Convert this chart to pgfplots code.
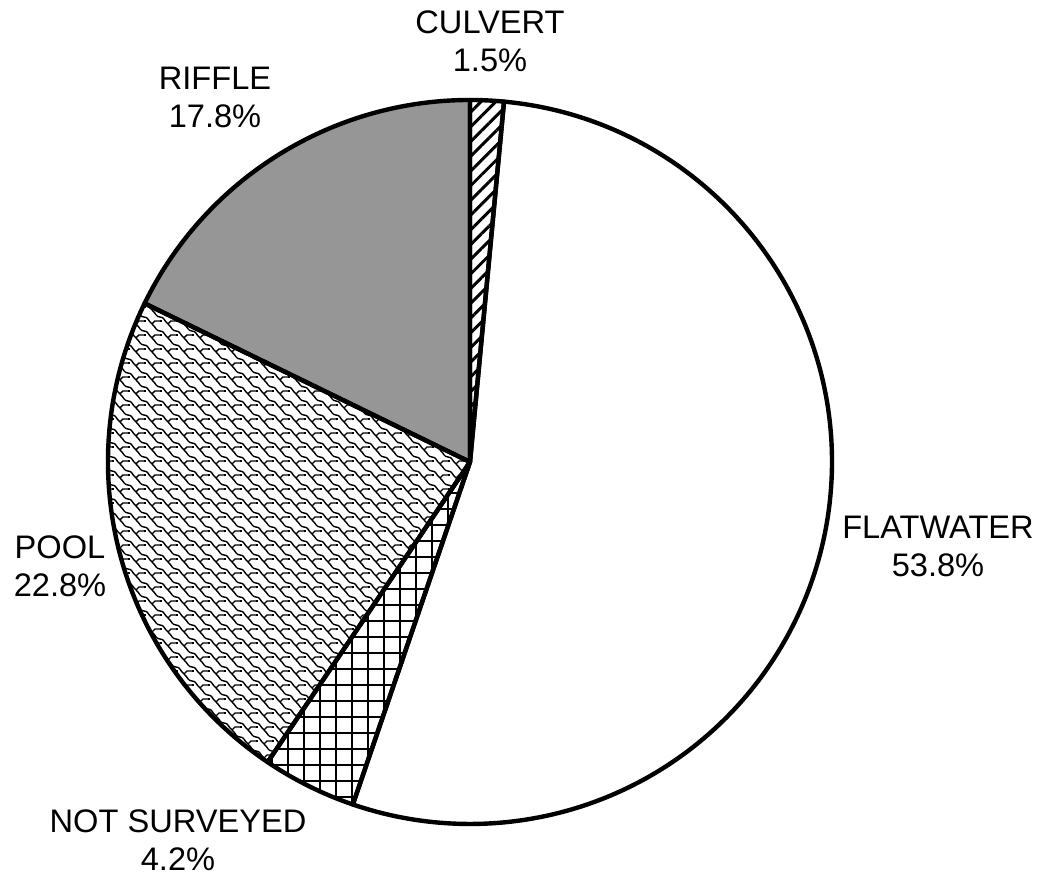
\documentclass[border=0pt]{standalone}
\usepackage{pgfplots}
\pgfplotsset{compat=1.18}
\usepackage{pgfplotstable}
\usetikzlibrary{patterns,patterns.meta}
\usepackage{fontspec}
\setmainfont{Liberation Sans}

% Share of surveyed stream length by habitat type (%)
\pgfplotstableread[col sep=comma]{
label,pct
CULVERT,1.5
FLATWATER,53.8
NOT SURVEYED,4.2
POOL,22.8
RIFFLE,17.8
}\habitat

\definecolor{riffle}{RGB}{150,150,150}

% shingle-like fill for the pool slice
\tikzdeclarepattern{
  name=shingle,
  type=uncolored,
  bounding box={(-0.5pt,-0.5pt) and (8.5pt,7.5pt)},
  tile size={(8pt,7pt)},
  code={
    \draw[line width=0.7pt]
      (0pt,7pt) .. controls (2pt,7pt) and (2pt,5.2pt) .. (4pt,3.5pt)
      .. controls (6pt,1.8pt) and (6pt,0pt) .. (8pt,0pt);
    \draw[line width=0.7pt] (4pt,3.5pt) -- (5.5pt,5pt) -- (8pt,5pt);
    \draw[line width=0.7pt] (0pt,5pt) -- (1pt,5pt);
  }
}

\newcommand\lbl[4]{% x, baseline (from top), first line, second line
  \node[anchor=base,font=\fontsize{16.3pt}{19pt}\selectfont,inner sep=0pt]
    at (axis cs:#1,877-#2) {#3};
  \node[anchor=base,font=\fontsize{16.3pt}{19pt}\selectfont,inner sep=0pt]
    at (axis cs:#1,877-#2-38) {#4};}

\newcommand\slice[3]{% start angle, end angle, style
  \path[#3] (axis cs:470,415) -- ++(#1:181pt)
    arc[start angle=#1, end angle=#2, radius=181pt] -- cycle;}

\begin{document}
\begin{tikzpicture}
\useasboundingbox (0,0) rectangle (520pt,438.5pt);
% cumulative angles, clockwise from twelve o'clock
\pgfmathsetmacro\total{0}
\foreach \r in {0,...,4}{%
  \pgfplotstablegetelem{\r}{pct}\of\habitat
  \pgfmathsetmacro\tmp{\total+\pgfplotsretval}%
  \global\let\total\tmp}
\pgfmathsetmacro\run{90}
\foreach \r/\nm in {0/A,1/B,2/C,3/D,4/E}{%
  \pgfplotstablegetelem{\r}{pct}\of\habitat
  \pgfmathsetmacro\nxt{\run-\pgfplotsretval/\total*360}%
  \expandafter\xdef\csname s\nm\endcsname{\run}%
  \expandafter\xdef\csname e\nm\endcsname{\nxt}%
  \global\let\run\nxt}
\begin{axis}[
  at={(0,0)}, anchor=south west,
  scale only axis, width=520pt, height=438.5pt,
  xmin=0, xmax=1040, ymin=0, ymax=877,
  hide axis, clip=false]
  \slice{\sA}{\eA}{fill=white,postaction={pattern={Lines[angle=45,distance=5.2pt,line width=1.5pt]}}}
  \slice{\sB}{\eB}{fill=white}
  \slice{\sC}{\eC}{fill=white,postaction={pattern={Hatch[angle=0,distance=8pt,line width=1pt]}}}
  \slice{\sD}{\eD}{fill=white,postaction={pattern=shingle}}
  \slice{\sE}{\eE}{fill=riffle}
  \slice{\sA}{\eA}{draw,line width=2.2pt,line join=round}
  \slice{\sB}{\eB}{draw,line width=2.2pt,line join=round}
  \slice{\sC}{\eC}{draw,line width=2.2pt,line join=round}
  \slice{\sD}{\eD}{draw,line width=2.2pt,line join=round}
  \slice{\sE}{\eE}{draw,line width=2.2pt,line join=round}
  \lbl{490}{34}{CULVERT}{1.5\%}
  \lbl{938}{539}{FLATWATER}{53.8\%}
  \lbl{178}{833}{NOT SURVEYED}{4.2\%}
  \lbl{60}{559}{POOL}{22.8\%}
  \lbl{215}{90}{RIFFLE}{17.8\%}
\end{axis}
\end{tikzpicture}
\end{document}
